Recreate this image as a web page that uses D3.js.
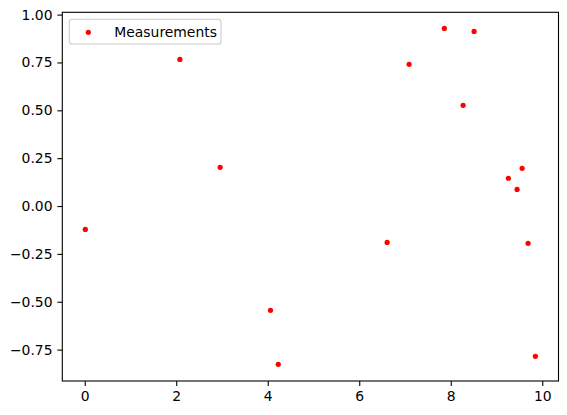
<!DOCTYPE html>
<html><head><meta charset="utf-8">
<script src="https://cdn.jsdelivr.net/npm/d3@7"></script>
<style>body{margin:0;background:#fff}svg{display:block}</style>
</head><body>
<svg id="c" width="567" height="415"></svg>
<script>
const xValues = [0.013, 2.08, 2.96, 4.06, 4.23, 6.61, 7.09, 7.86, 8.27, 8.51, 9.26, 9.45, 9.56, 9.69, 9.85];
const yValues = [-0.122, 0.766, 0.202, -0.545, -0.827, -0.190, 0.740, 0.928, 0.526, 0.912, 0.145, 0.087, 0.197, -0.195, -0.785];
const xTicks = [0, 2, 4, 6, 8, 10];
const yTicks = [-0.75, -0.5, -0.25, 0, 0.25, 0.5, 0.75, 1.0];
const xDomain = [-0.49, 10.355];
const yDomain = [-0.914, 1.012];
const seriesName = "Measurements";

const svg = d3.select("#c");
const L = 62.3, R = 558.5, T = 12.3, B = 381;
const x = d3.scaleLinear().domain(xDomain).range([L, R]);
const y = d3.scaleLinear().domain(yDomain).range([B, T]);
const font = "DejaVu Sans, sans-serif";
const fmtY = v => d3.format(".2f")(v).replace("-", "\u2212");

const xAxis = svg.append("g").attr("transform", `translate(0,${B})`)
  .call(d3.axisBottom(x).tickValues(xTicks).tickFormat(d3.format("d")).tickSize(4.9).tickPadding(4.9));
const yAxis = svg.append("g").attr("transform", `translate(${L},0)`)
  .call(d3.axisLeft(y).tickValues(yTicks).tickFormat(fmtY).tickSize(4.9).tickPadding(4.9));
[xAxis, yAxis].forEach(a => {
  a.select(".domain").remove();
  a.selectAll(".tick line").attr("stroke", "#000").attr("stroke-width", 1.1);
  a.selectAll(".tick text").attr("fill", "#000").style("font-family", font).style("font-size", "13.9px");
});

svg.append("rect").attr("x", L).attr("y", T).attr("width", R - L).attr("height", B - T)
  .attr("fill", "none").attr("stroke", "#000").attr("stroke-width", 1.1);

svg.append("g").selectAll("circle").data(xValues.map((v, i) => [v, yValues[i]])).join("circle")
  .attr("cx", d => x(d[0])).attr("cy", d => y(d[1])).attr("r", 2.6).attr("fill", "red");

const lg = svg.append("g");
lg.append("rect").attr("x", 69.3).attr("y", 19.3).attr("width", 151.7).attr("height", 24.7)
  .attr("rx", 2.8).attr("fill", "#fff").attr("fill-opacity", 0.8).attr("stroke", "#cccccc").attr("stroke-width", 1.1);
lg.append("circle").attr("cx", 88.3).attr("cy", 32.3).attr("r", 2.6).attr("fill", "red");
lg.append("text").attr("x", 114.3).attr("y", 36.8).text(seriesName)
  .style("font-family", font).style("font-size", "13.9px").attr("fill", "#000");
</script>
</body></html>
